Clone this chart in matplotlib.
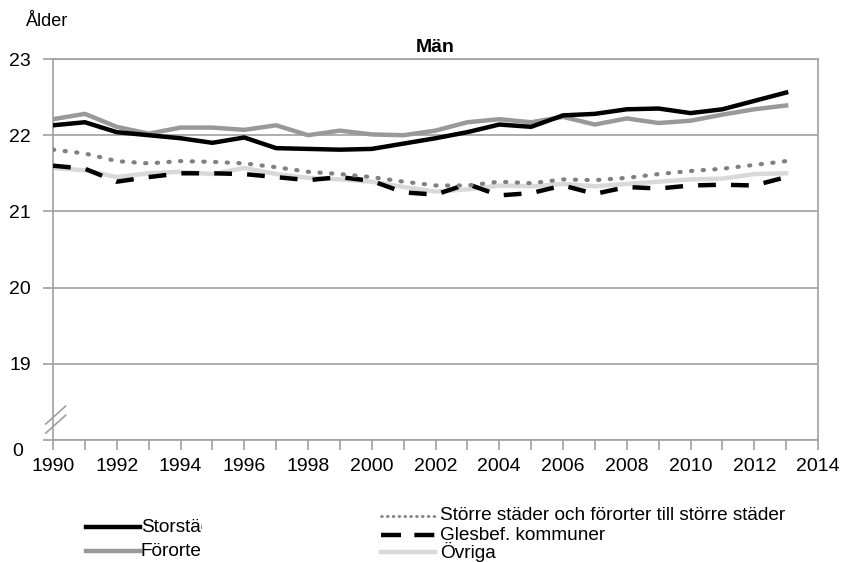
import matplotlib
matplotlib.use("Agg")
import matplotlib.pyplot as plt
from matplotlib.lines import Line2D
from matplotlib.transforms import Bbox

plt.rcParams['font.family'] = ['Liberation Sans', 'DejaVu Sans']

# ===============================
# data
# ===============================
years = list(range(1990, 2014))
storstader = [22.13, 22.17, 22.04, 22.00, 21.96, 21.90, 21.97, 21.83, 21.82, 21.81,
              21.82, 21.89, 21.96, 22.04, 22.14, 22.11, 22.26, 22.28, 22.34, 22.35,
              22.29, 22.34, 22.45, 22.56]
fororter = [22.21, 22.28, 22.11, 22.02, 22.10, 22.10, 22.07, 22.13, 22.00, 22.06,
            22.01, 22.00, 22.06, 22.17, 22.21, 22.17, 22.24, 22.14, 22.22, 22.16,
            22.19, 22.27, 22.34, 22.39]
storre_stader = [21.81, 21.76, 21.66, 21.63, 21.66, 21.65, 21.63, 21.58, 21.52, 21.49,
                 21.45, 21.39, 21.34, 21.34, 21.39, 21.37, 21.42, 21.41, 21.44, 21.49,
                 21.53, 21.56, 21.61, 21.66]
glesbef = [21.60, 21.56, 21.39, 21.45, 21.50, 21.50, 21.49, 21.45, 21.41, 21.45,
           21.40, 21.25, 21.22, 21.36, 21.21, 21.24, 21.34, 21.23, 21.32, 21.30,
           21.34, 21.35, 21.34, 21.45]
ovriga = [21.57, 21.54, 21.45, 21.50, 21.52, 21.49, 21.57, 21.49, 21.44, 21.42,
          21.39, 21.32, 21.26, 21.29, 21.34, 21.33, 21.36, 21.33, 21.36, 21.39,
          21.42, 21.43, 21.49, 21.50]

# the axis is broken: 18 on the scale is shown as 0
y_ticks = [18, 19, 20, 21, 22, 23]
y_labels = ["", "19", "20", "21", "22", "23"]

grid_col = "#a0a0a0"
dot_style = (0, (0.3, 2.5))
dash_style = (0, (4.0, 3.4))

# ===============================
# plot
# ===============================
fig = plt.figure(figsize=(8.43, 5.62), dpi=100)
ax = fig.add_axes([53 / 843, 1 - 440 / 562, (818 - 53) / 843, (440 - 59) / 562])

ax.plot(years, ovriga, color="#d9d9d9", lw=3.2, zorder=2)
ax.plot(years, glesbef, color="black", lw=3.2, linestyle=dash_style, zorder=3)
ax.plot(years, storre_stader, color="#808080", lw=3.0, linestyle=dot_style,
        dash_capstyle="round", zorder=3)
ax.plot(years, fororter, color="#999999", lw=3.2, zorder=3)
ax.plot(years, storstader, color="black", lw=3.2, zorder=4)

ax.set_xlim(1990, 2014)
ax.set_ylim(18, 23)
ax.set_xticks(range(1990, 2015, 2))
ax.set_xticks(range(1990, 2015), minor=True)
ax.set_yticks(y_ticks)
ax.set_yticklabels(y_labels)

# "0" label sits a little below and left of the broken axis
ax.annotate("0", xy=(0, 18), xycoords=("axes fraction", "data"),
            xytext=(-30, -11), textcoords="offset pixels",
            ha="right", va="center", fontsize=14)

ax.yaxis.grid(True, color=grid_col, lw=1.2)
ax.set_axisbelow(True)
for s in ax.spines.values():
    s.set_color(grid_col)
    s.set_linewidth(1.2)
ax.tick_params(axis="both", which="both", color=grid_col, width=1.2, labelsize=14)
ax.tick_params(axis="x", which="both", length=7, direction="out", pad=6)
ax.tick_params(axis="y", length=7, direction="out", pad=9)

# axis break marks
for y0 in (0.018, 0.042):
    ax.plot([-0.0095, 0.0165], [y0, y0 + 0.047], transform=ax.transAxes,
            color=grid_col, lw=1.2, clip_on=False)

ax.set_title("Män", fontsize=14, fontweight="bold", pad=5)
fig.text(26 / 843, 1 - 21 / 562, "Ålder", fontsize=13, ha="left", va="center")

# ===============================
# legend (manual, like the Excel one)
# ===============================
def leg_item(x0, y, label, clip_x=None, gap=1, **kw):
    fy = 1 - y / 562
    fig.add_artist(Line2D([x0 / 843, (x0 + 54) / 843], [fy, fy], transform=fig.transFigure, **kw))
    t = fig.text((x0 + 54 + gap) / 843, fy, label, fontsize=13.7, ha="left", va="center")
    if clip_x is not None:
        t.set_clip_box(Bbox.from_extents(0, 0, clip_x, 562))
        t.set_clip_on(True)

leg_item(86, 527, "Storstäder", clip_x=202, color="black", lw=3.2)
leg_item(86, 551, "Förorter", clip_x=202, color="#999999", lw=3.2)
leg_item(381, 516, "Större städer och förorter till större städer", gap=5, color="#808080",
         lw=2.0, linestyle=(0, (0.3, 1.8)), dash_capstyle="round")
leg_item(381, 535, "Glesbef. kommuner", gap=5, color="black", lw=3.2, linestyle=(0, (4.5, 3.0)))
leg_item(381, 552, "Övriga", gap=5, color="#d9d9d9", lw=3.2)

fig.savefig("out.png", dpi=100)
